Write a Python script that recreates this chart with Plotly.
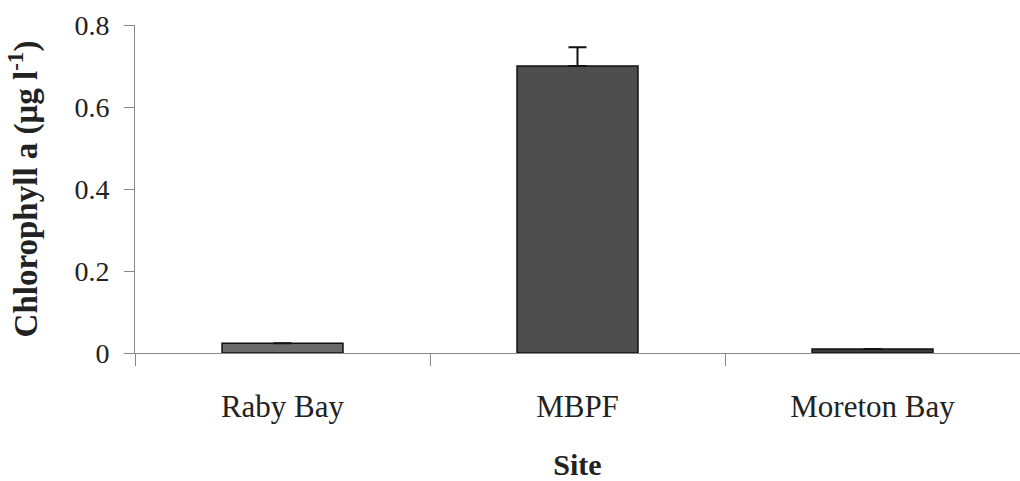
import plotly.graph_objects as go

sites = ["Raby Bay", "MBPF", "Moreton Bay"]
chl = [0.024, 0.70, 0.010]
err = [None, 0.046, None]
yticks = [0, 0.2, 0.4, 0.6, 0.8]
ytick_labels = ["0", "0.2", "0.4", "0.6", "0.8"]
bar_colors = ["#6a6a6a", "#4e4e4e", "#3c3c3c"]

fig = go.Figure()
fig.add_trace(go.Bar(
    x=sites, y=chl, width=0.41,
    marker=dict(color=bar_colors, line=dict(color="#111111", width=1.5)),
    error_y=dict(type="data", array=err, symmetric=False, arrayminus=[0, 0, 0],
                 color="#111111", thickness=2, width=9),
))

serif = "Liberation Serif, Times New Roman, serif"
fig.update_layout(
    width=1020, height=481,
    margin=dict(l=135, r=0, t=25, b=128),
    paper_bgcolor="white", plot_bgcolor="white",
    showlegend=False,
    font=dict(family=serif, color="#222222"),
    xaxis=dict(
        range=[-0.5, 2.5], tickson="boundaries", ticks="outside", ticklen=12,
        tickcolor="#888888", showline=True, linecolor="#888888", linewidth=1,
        showgrid=False, tickfont=dict(size=31, family=serif, color="#222222"),
        ticklabelstandoff=26, automargin=False,
        title=dict(text="<b>Site</b>", font=dict(size=30, family=serif, color="#222222"), standoff=38),
    ),
    yaxis=dict(
        range=[0, 0.8], tickvals=yticks, ticktext=ytick_labels,
        ticks="outside", ticklen=10, tickcolor="#888888",
        showline=True, linecolor="#888888", linewidth=1, showgrid=False,
        zeroline=False, tickfont=dict(size=28, family=serif, color="#222222"),
        ticklabelstandoff=9, automargin=False,
        title=dict(text="<b>Chlorophyll a (μg l<sup>-1</sup>)</b>",
                   font=dict(size=33, family=serif, color="#222222"), standoff=26),
    ),
)
fig.write_html("out.html")
